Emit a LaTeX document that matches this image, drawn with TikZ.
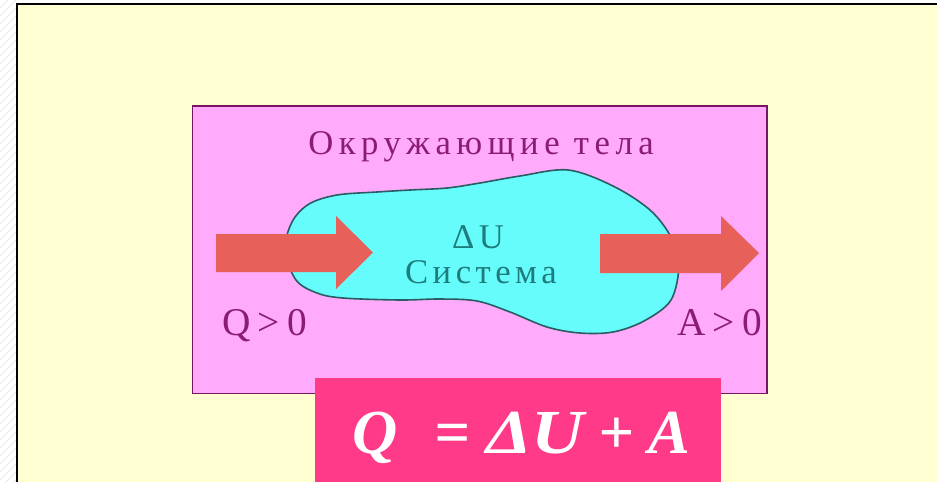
\documentclass[tikz,border=0pt]{standalone}
\usepackage{fontspec}
\setmainfont{Liberation Serif}
\newfontfamily\labfont[LetterSpace=16]{Liberation Serif}
\newfontfamily\sysfont[LetterSpace=13]{Liberation Serif}
\newfontfamily\qafont[LetterSpace=18]{Liberation Serif}
\definecolor{bgyellow}{HTML}{FFFFD2}
\definecolor{pinkfill}{HTML}{FFAAFA}
\definecolor{pinkedge}{HTML}{741660}
\definecolor{purpletext}{HTML}{8A1C78}
\definecolor{cyanfill}{HTML}{66FCFC}
\definecolor{cyanedge}{HTML}{2A5C64}
\definecolor{tealtext}{HTML}{1E7C7C}
\definecolor{arrowred}{HTML}{E8605A}
\definecolor{formulabox}{HTML}{FF3A88}
\tikzset{
  lab/.style={inner sep=0pt, font=\fontsize{26}{26}\labfont},
  syslab/.style={inner sep=0pt, font=\fontsize{26}{26}\sysfont, text=tealtext},
  biglab/.style={inner sep=0pt, font=\fontsize{29.5}{29.5}\qafont, text=purpletext},
  arrowshape/.style={fill=arrowred, draw=none},
}
\newcommand{\fpart}[2]{\makebox[#1][l]{#2}}
\begin{document}
\begin{tikzpicture}[x=0.75pt,y=-0.75pt]
\useasboundingbox (0,0) rectangle (937,482);
% left striped margin
\fill[white] (0,0) rectangle (17,482);
\begin{scope}
\clip (0,0) rectangle (16,482);
\foreach \i in {-40,-32,...,500} {
  \draw[black!8, line width=0.6pt] (0,\i+16) -- (16,\i);
}
\end{scope}
% yellow page
\fill[bgyellow] (17,4) rectangle (937,482);
\draw[black, line width=2.2pt] (17,482) -- (17,4) -- (937,4);
% pink surroundings box
\draw[pinkedge, fill=pinkfill, line width=1.4pt] (192.5,106) rectangle (767,393.5);
% system blob
\draw[cyanedge, fill=cyanfill, line width=1.2pt] plot[smooth cycle, tension=0.55] coordinates {
  (285,250) (292,222) (309,204) (337,195) (377,192) (410,190) (447,188)
  (480,183) (520,176) (568,170) (613,186) (650,210) (671,237) (679,264)
  (671,300) (644,321) (613,332) (580,333) (547,327) (510,312) (477,301)
  (440,299) (400,300) (343,298) (317,293) (296,280)};
% arrows
\fill[arrowshape] (216,234) -- (336,234) -- (336,216) -- (373,252.5) -- (336,289) -- (336,272) -- (216,272) -- cycle;
\fill[arrowshape] (600,234) -- (721,234) -- (721,216) -- (759,253) -- (721,291) -- (721,273) -- (600,273) -- cycle;
% labels
\node[lab, text=purpletext, anchor=base] (surr) at (481,154) {Окружающие тела};
\node[syslab, anchor=base] (du) at (478,248) {ΔU};
\node[syslab, anchor=base] (sys) at (481,283) {Система};
\node[biglab, anchor=base west] (q) at (222,335) {Q>0};
\node[biglab, anchor=base east] (a) at (762,335) {A>0};
% formula box
\fill[formulabox] (315,378) rectangle (721,482);
\node[inner sep=0pt, anchor=base west, text=white, font=\fontsize{47}{47}\selectfont\bfseries\itshape] (formula) at (352,453)
  {\fpart{62pt}{Q}\fpart{38.5pt}{=}\fpart{84pt}{\scalebox{1.16}[1]{ΔU}}\fpart{38pt}{+}A};
\end{tikzpicture}
\end{document}
